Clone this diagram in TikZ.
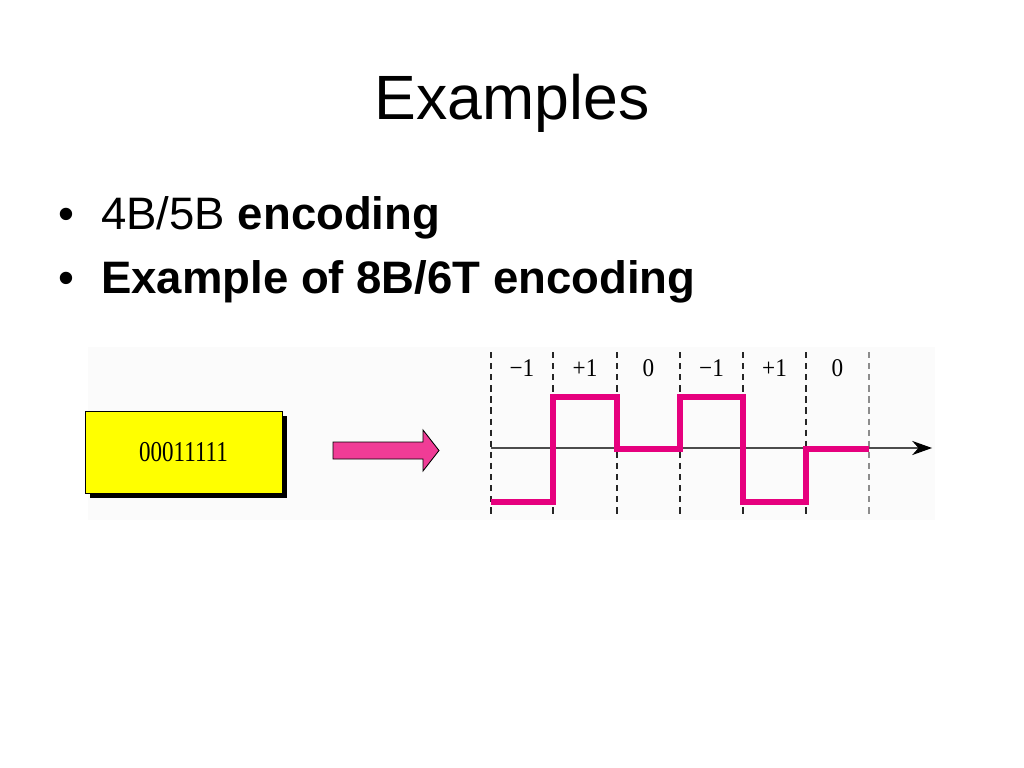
\documentclass[tikz,border=0pt]{standalone}
\usepackage{fontspec}
\setmainfont{Liberation Sans}
\newfontfamily\serifdiag{Liberation Serif}
\usetikzlibrary{arrows.meta}
\definecolor{wave}{RGB}{230,0,126}
\definecolor{arrowpink}{RGB}{240,60,150}
\definecolor{boxyellow}{RGB}{255,255,0}
\definecolor{panel}{RGB}{251,251,251}
\tikzset{
  titletext/.style={font=\fontsize{44}{50}\selectfont, inner sep=0pt, anchor=base},
  bullettext/.style={font=\fontsize{32}{38}\selectfont, inner sep=0pt, anchor=base west},
  levellabel/.style={font=\serifdiag\fontsize{16.3}{19}\selectfont, inner sep=0pt},
  divider/.style={dash pattern=on 4.4pt off 3.4pt, line width=0.9pt, black!85},
  wavepath/.style={wave, line width=4.3pt, line join=miter, line cap=butt},
  axisline/.style={black!70, line width=0.8pt, -{Stealth[length=14pt,width=10pt,inset=4.5pt,color=black]}},
  databox/.style={draw=black, line width=0.6pt, fill=boxyellow, inner sep=0pt,
    minimum width={197*0.703125pt}, minimum height={82*0.703125pt},
    font=\serifdiag\fontsize{16.2}{18}\selectfont}
}
\begin{document}
\begin{tikzpicture}[x=0.703125pt,y=-0.703125pt]
\useasboundingbox (0,0) rectangle (1024,768);
\fill[white] (0,0) rectangle (1024,768);
\fill[panel] (88,347) rectangle (935,520);

% title and bullets
\node[titletext] (title) at (512,120) {Examples};
\node[bullettext] (b1) at (58,230) {\textbullet};
\node[bullettext] (t1) at (101,230) {4B/5B \textbf{encoding}};
\node[bullettext] (b2) at (58,293) {\textbullet};
\node[bullettext] (t2) at (101,293) {\textbf{Example of 8B/6T encoding}};

% yellow data box with shadow
\fill[black] (90,416) rectangle (287,498);
\node[databox] (data) at (183.5,452) {\scalebox{1}[1.25]{00011111}};

% pink block arrow
\draw[fill=arrowpink, draw=black, line width=0.6pt]
  (333,442) -- (423,442) -- (423,430) -- (439,450.5) -- (423,471) -- (423,459) -- (333,459) -- cycle;

% dashed dividers
\foreach \i/\x in {0/491,1/553,2/617,3/680,4/743,5/806}{
  \coordinate (dt\i) at (\x,352);
  \coordinate (db\i) at (\x,517);
  \draw[divider] (dt\i) -- (db\i);
}
\coordinate (dt6) at (869,352);
\coordinate (db6) at (869,517);
\draw[divider, black!45] (dt6) -- (db6);

% axis
\coordinate (axs) at (491,448);
\coordinate (axe) at (932,448);
\draw[axisline] (axs) -- (axe);

% level labels
\foreach \x/\t [count=\k] in {522/{\char"2212 1},585/{+1},648.5/{0},711.5/{\char"2212 1},774.5/{+1},837.5/{0}}{
  \node[levellabel] (lab\k) at (\x,368) {\scalebox{1}[1.1]{\t}};
}

% waveform
\draw[wavepath] (491,502) -- (553,502) -- (553,397) -- (617,397) -- (617,449)
  -- (680,449) -- (680,397) -- (743,397) -- (743,502) -- (806,502) -- (806,449) -- (869,449);
\end{tikzpicture}
\end{document}
